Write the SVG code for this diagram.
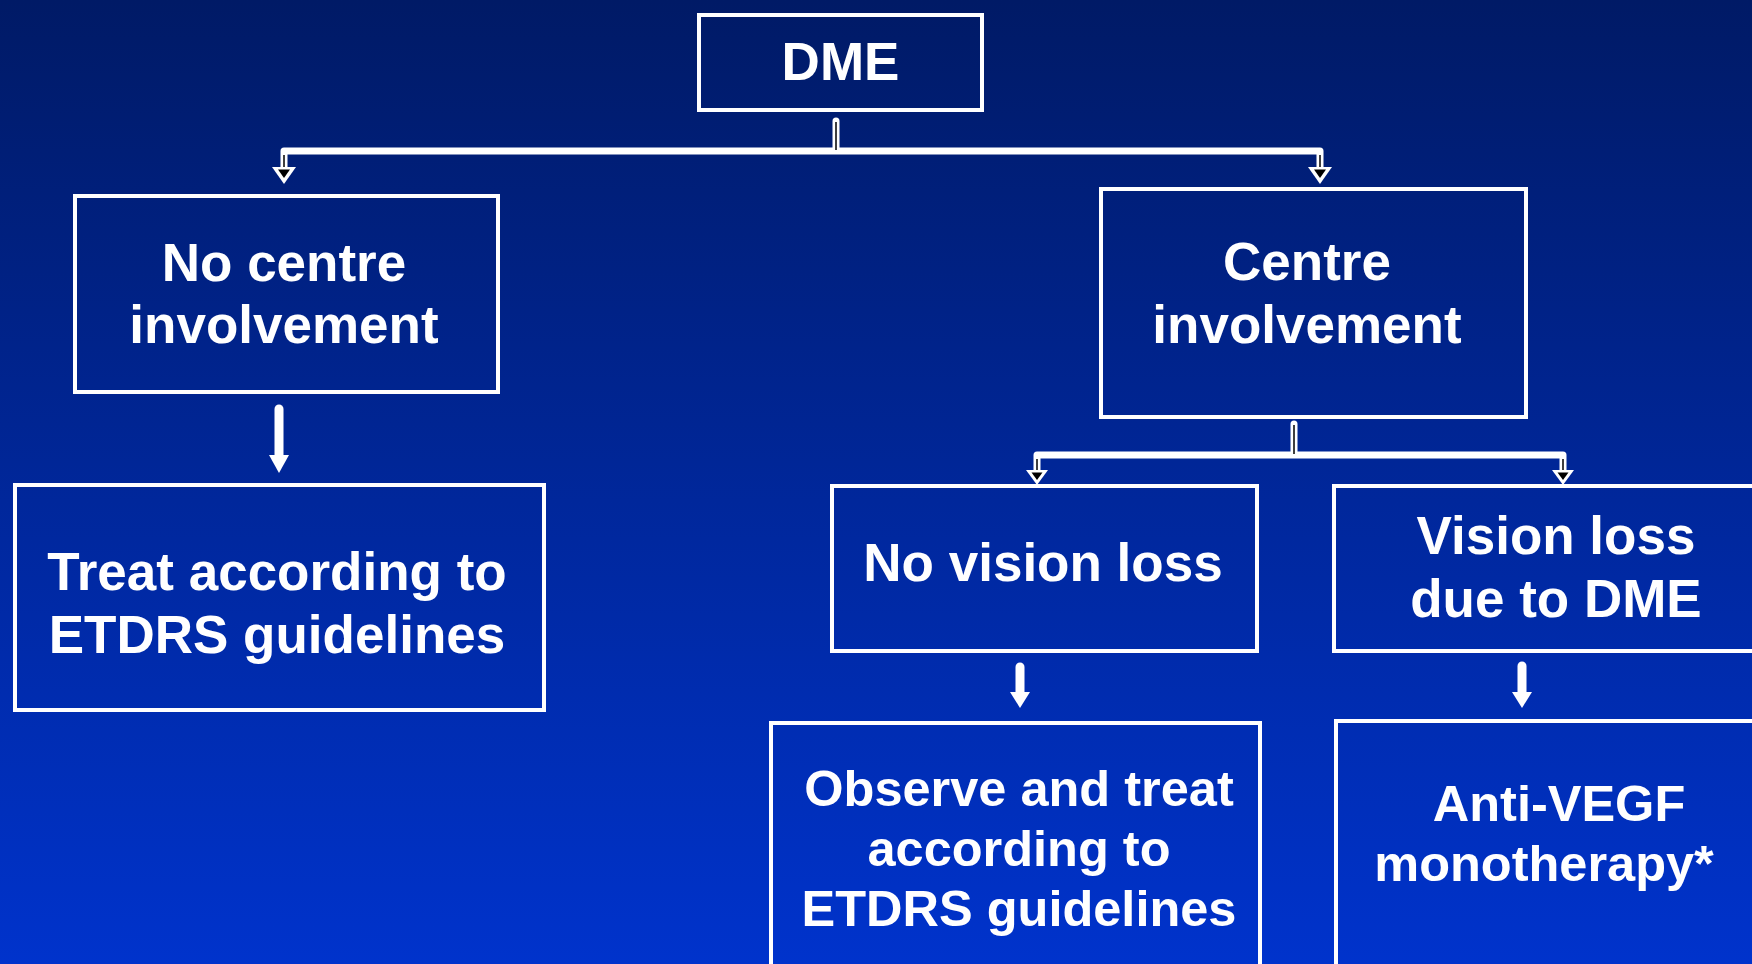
<svg xmlns="http://www.w3.org/2000/svg" width="1752" height="964" viewBox="0 0 1752 964">
  <defs>
    <linearGradient id="bg" x1="0" y1="0" x2="0" y2="1">
      <stop offset="0" stop-color="#001a66"/>
      <stop offset="1" stop-color="#0033cc"/>
    </linearGradient>
  </defs>
  <style>
    .box { fill: none; stroke: #ffffff; stroke-width: 4; }
    .t { font-family: "Liberation Sans", Arial, sans-serif; font-weight: bold; font-size: 53px; fill: #ffffff; text-anchor: middle; }
    .ts { font-size: 50.5px; }
    .wire { fill: none; stroke: #ffffff; stroke-width: 7; stroke-linejoin: round; stroke-linecap: round; }
    .core { fill: none; stroke: #000000; stroke-width: 1.5; }
    .head { fill: #ffffff; }
    .headin { fill: #000000; }
    .shaft { fill: none; stroke: #ffffff; stroke-width: 9; stroke-linecap: round; }
  </style>
  <rect x="0" y="0" width="1752" height="964" fill="url(#bg)"/>

  <g id="connectors">
    <!-- DME split -->
    <path class="wire" d="M836,121 L836,151 M284,151 L1320,151 M284,151 L284,168 M1320,151 L1320,168"/>
    <path class="core" d="M836,122 L836,150 M284,155 L284,168 M1320,155 L1320,168"/>
    <polygon class="head" points="272,167 296,167 284,184"/>
    <polygon class="headin" points="278,169.5 290,169.5 284,178"/>
    <polygon class="head" points="1308,167 1332,167 1320,184"/>
    <polygon class="headin" points="1314,169.5 1326,169.5 1320,178"/>

    <!-- Centre involvement split -->
    <path class="wire" d="M1294,424 L1294,455 M1037,455 L1563,455 M1037,455 L1037,471 M1563,455 L1563,471"/>
    <path class="core" d="M1294,425 L1294,454 M1037,459 L1037,471 M1563,459 L1563,471"/>
    <polygon class="head" points="1026,470 1048,470 1037,485"/>
    <polygon class="headin" points="1031.5,472.5 1042.5,472.5 1037,480"/>
    <polygon class="head" points="1552,470 1574,470 1563,485"/>
    <polygon class="headin" points="1557.5,472.5 1568.5,472.5 1563,480"/>

    <!-- simple arrows -->
    <path class="shaft" d="M279,409 L279,458"/>
    <polygon class="head" points="269,455 289,455 279,473"/>
    <path class="shaft" d="M1020,667 L1020,694"/>
    <polygon class="head" points="1010,692 1030,692 1020,708"/>
    <path class="shaft" d="M1522,666 L1522,694"/>
    <polygon class="head" points="1512,692 1532,692 1522,708"/>
  </g>

  <g id="dme">
    <rect class="box" x="699" y="15" width="283" height="95"/>
    <text class="t" x="840.5" y="80">DME</text>
  </g>

  <g id="no-centre">
    <rect class="box" x="75" y="196" width="423" height="196"/>
    <text class="t" x="284" y="281">No centre</text>
    <text class="t" x="284" y="343">involvement</text>
  </g>

  <g id="treat-etdrs">
    <rect class="box" x="15" y="485" width="529" height="225"/>
    <text class="t" x="277" y="590">Treat according to</text>
    <text class="t" x="277" y="653">ETDRS guidelines</text>
  </g>

  <g id="centre">
    <rect class="box" x="1101" y="189" width="425" height="228"/>
    <text class="t" x="1307" y="280">Centre</text>
    <text class="t" x="1307" y="343">involvement</text>
  </g>

  <g id="no-vision-loss">
    <rect class="box" x="832" y="486" width="425" height="165"/>
    <text class="t" x="1043" y="581">No vision loss</text>
  </g>

  <g id="vision-loss">
    <rect class="box" x="1334" y="486" width="440" height="165"/>
    <text class="t" x="1556" y="554">Vision loss</text>
    <text class="t" x="1556" y="617">due to DME</text>
  </g>

  <g id="observe">
    <rect class="box" x="771" y="723" width="489" height="300"/>
    <text class="t ts" x="1019" y="806">Observe and treat</text>
    <text class="t ts" x="1019" y="866">according to</text>
    <text class="t ts" x="1019" y="926">ETDRS guidelines</text>
  </g>

  <g id="anti-vegf">
    <rect class="box" x="1336" y="721" width="440" height="300"/>
    <text class="t ts" x="1559" y="821">Anti-VEGF</text>
    <text class="t ts" x="1544" y="881">monotherapy*</text>
  </g>
</svg>
